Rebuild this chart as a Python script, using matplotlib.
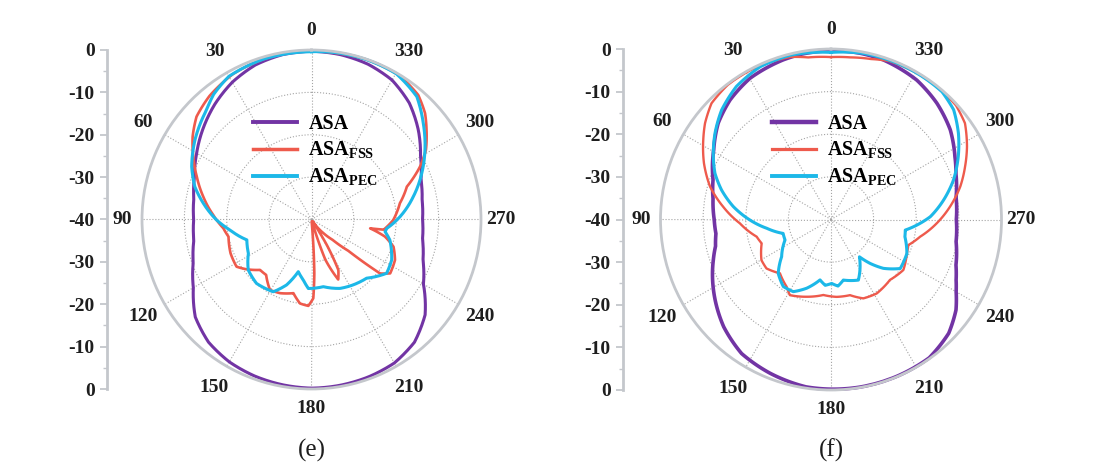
import numpy as np
import matplotlib.pyplot as plt
from matplotlib.lines import Line2D

plt.rcParams['font.family'] = ['Liberation Serif', 'DejaVu Serif']
plt.rcParams['mathtext.fontset'] = 'custom'
plt.rcParams['mathtext.rm'] = 'Liberation Serif:bold'
plt.rcParams['mathtext.bf'] = 'Liberation Serif:bold'

# ---------------------------------------------------------------------------
# Data (angle in degrees, gain in dB)
# ---------------------------------------------------------------------------

ANGLE_TICKS = list(range(0, 360, 30))
RADIAL_POS = [-40, -30, -20, -10, 0, 10, 20, 30, 40]
RADIAL_LABELS = ["0", "-10", "-20", "-30", "-40", "-30", "-20", "-10", "0"]

# panel (e)
e_asa_ang = [0, 10, 20, 30, 40, 50, 60, 70, 80, 90, 100, 110, 120, 130, 140, 150,
             160, 170, 180, 190, 200, 210, 220, 230, 240, 250, 260, 270, 280, 290,
             300, 310, 320, 330, 340, 350]
e_asa_db = [-0.3, -0.5, -1.2, -2.6, -4.5, -6.6, -8.7, -10.6, -11.8, -12.2, -11.8,
            -10.3, -7.8, -4.2, -2.2, -1.2, -0.7, -0.4, -0.2, -0.3, -0.5, -0.9,
            -2.2, -5.0, -9.5, -12.0, -13.4, -13.8, -13.5, -12.5, -10.3, -7.1,
            -4.1, -2.0, -1.0, -0.5]

e_fss_ang = [0, 16.7, 28.4, 39.6, 48.2, 55.1, 62, 69.5, 78.1, 87.4, 95.7, 101.7,
             112.7, 122.2, 127.5, 134.4, 140.7, 149.5, 156.9, 166.2, 172.2, 177.9,
             181.3, 183, 185, 196, 199, 204, 208, 211, 213, 221, 226, 229.6, 231.8,
             235.6, 244.1, 251.6, 256.9, 261.4, 262, 269.7, 280.4, 289, 296, 301.3,
             307.9, 313.1, 319.4, 328.5, 341, 351.4]
e_fss_db = [-0.3, -0.5, -1.0, -2.2, -3.6, -5.8, -8.4, -11.1, -13.9, -16.8, -19.1,
            -20.0, -19.3, -19.1, -20.7, -23.0, -23.1, -20.7, -21.1, -22.1, -20.0,
            -19.6, -21.4, -27.3, -39.5, -39.5, -30.0, -24.5, -26.5, -33.0, -39.5,
            -35.8, -33.1, -28.6, -19.4, -17.5, -18.1, -19.6, -22.2, -26.0, -22.8,
            -20.7, -18.8, -16.2, -11.5, -8.4, -5.6, -3.3, -1.3, -0.2, -0.1, -0.3]

e_pec_ang = [0, 16.8, 30, 38, 43.8, 55.7, 66.2, 74.3, 81.5, 90.3, 97.3, 107.5, 118.2,
             128.6, 139.3, 152.1, 159.2, 165.8, 172.3, 177.4, 190, 202.5, 212.6,
             223.2, 234.4, 243.2, 255.4, 260.6, 263.3, 271.8, 282.6, 292.7, 301.5,
             310.7, 319.4, 329.8, 341.1, 351.4]
e_pec_db = [-0.4, -0.5, -1.0, -2.5, -4.2, -6.7, -9.1, -11.4, -14.2, -17.6, -20.6,
            -24.0, -23.1, -20.9, -20.1, -20.7, -23.5, -27.3, -25.6, -23.7, -23.9,
            -22.4, -21.7, -21.0, -18.2, -18.8, -20.9, -22.4, -22.1, -19.1, -15.4,
            -11.8, -8.6, -5.2, -1.8, -0.2, -0.1, -0.2]

# panel (f)
f_asa_ang = [0, 10, 16.6, 29.8, 40.2, 49.5, 59.3, 71.4, 80, 90, 97, 103, 109, 124.8,
             135, 146.3, 158.4, 171.5, 180, 190, 202.9, 215.4, 226, 234.1, 240,
             244.2, 250, 260, 270, 280, 290, 296.9, 306.9, 317.7, 328.4, 341.8, 350]
f_asa_db = [-0.4, -0.6, -0.9, -1.8, -3.3, -5.2, -8.0, -10.8, -11.9, -12.6, -12.8,
            -12.2, -10.8, -6.9, -4.4, -2.2, -1.2, -0.3, -0.2, -0.1, -0.1, -0.2,
            -1.6, -3.8, -6.1, -7.4, -8.8, -10.2, -10.6, -10.2, -8.8, -7.4, -5.0,
            -3.1, -1.6, -0.6, -0.4]

f_fss_ang = [0, 8, 14, 18.6, 27.9, 37.5, 45.8, 52.6, 58.1, 66.1, 74.8, 83.2, 92.4,
             103, 109, 120.3, 127.2, 136.5, 146.6, 151.5, 162.5, 174.2, 184.2, 194.1,
             202.3, 211.7, 224.3, 235.1, 245.9, 251.7, 259.1, 267.9, 276.2, 284.3,
             291.5, 298.2, 305.7, 312.4, 320.5, 329.8, 339.9, 346, 353.3]
f_fss_db = [-1.9, -1.6, -0.7, -0.5, -0.2, -0.2, -0.9, -2.8, -4.7, -7.4, -10.6, -14.5,
            -18.6, -22.1, -22.8, -21.1, -21.0, -22.6, -21.1, -19.8, -21.0, -22.2,
            -21.8, -21.7, -20.0, -19.6, -20.2, -19.3, -20.5, -20.9, -18.7, -15.2,
            -11.9, -8.7, -6.2, -3.8, -1.3, -0.3, -0.2, -0.2, -0.4, -1.2, -1.7]

f_pec_ang = [0, 13.9, 24.9, 35.4, 45, 53.4, 61.9, 68.3, 74.9, 82.5, 90.4, 97.8, 106.2,
             114, 127, 135.6, 144.6, 152.4, 160.5, 169.7, 175, 180.6, 186, 191.5,
             204.3, 217.3, 221.7, 227, 234.7, 245.9, 256.9, 261.9, 266.3, 271.6,
             279.8, 287.9, 296.3, 304.1, 311.8, 319, 328.3, 337.8, 349]
f_pec_db = [-0.8, -0.3, -0.5, -1.7, -3.7, -6.1, -8.7, -10.7, -13.4, -16.9, -21.0,
            -24.8, -28.3, -28.2, -25.5, -22.3, -20.7, -20.9, -22.9, -25.6, -24.5,
            -25.0, -24.3, -25.5, -24.4, -29.0, -26.2, -23.2, -20.1, -20.5, -22.2,
            -22.4, -19.8, -16.7, -13.2, -9.8, -6.7, -3.9, -1.4, -0.3, -0.2, -0.2,
            -0.3]

# ---------------------------------------------------------------------------
# Style
# ---------------------------------------------------------------------------

PURPLE = "#7234a4"
RED = "#ee5a4c"
CYAN = "#1cb8e8"
RIM = "#c4c7cc"
GRID = "#a4a4a4"
INK = "#1e1e1e"

W, H = 1116, 467
fig = plt.figure(figsize=(W / 100, H / 100), dpi=100)
fig.patch.set_facecolor("white")


def _closed(ang, val):
    a = np.deg2rad(np.r_[ang, ang[0] + 360])
    return a, np.r_[val, val[0]]


def draw_panel(cx, cy, rad, spine_x, series, tag, leg_x):
    ax = fig.add_axes([(cx - rad) / W, 1 - (cy + rad) / H, 2 * rad / W, 2 * rad / H],
                      projection="polar")
    ax.set_theta_zero_location("N")
    ax.set_theta_direction(1)
    ax.set_rlim(-40, 0)
    ax.set_rticks([-30, -20, -10])
    ax.set_yticklabels([])
    ax.set_thetagrids(ANGLE_TICKS, labels=[""] * len(ANGLE_TICKS))
    ax.grid(True, ls=":", lw=0.8, color=GRID)
    ax.spines["polar"].set_color(RIM)
    ax.spines["polar"].set_linewidth(2.0)
    ax.tick_params(axis="x", direction="in", length=6, width=1.3, color=RIM, pad=0)
    ax.tick_params(axis="y", length=0)
    ax.patch.set_alpha(0)

    handles = []
    for label, ang, val, col, lw in series:
        a, v = _closed(ang, val)
        (ln,) = ax.plot(a, v, color=col, lw=lw, clip_on=False, solid_joinstyle="round")
        # draw segments as polar interpolations (smooth arcs) instead of chords
        ln.get_path()._interpolation_steps = 24
        handles.append(Line2D([], [], color=col, lw=lw + 0.6, label=label))

    for t in ANGLE_TICKS:
        r_lab = 4.6 if t % 90 == 0 else 5.8
        ax.text(np.deg2rad(t), r_lab, str(t), ha="center", va="center", fontsize=14,
                fontweight="bold", color=INK)

    ax.legend(handles=handles, loc="center left", bbox_to_anchor=(leg_x / W, 1 - 151 / H),
              bbox_transform=fig.transFigure, frameon=False, borderpad=0,
              borderaxespad=0, handlelength=2.2, handletextpad=0.55, labelspacing=0.3,
              prop={"family": "Liberation Serif", "weight": "bold", "size": 14.5})

    # vertical dB scale on the left
    axr = fig.add_axes([spine_x / W, 1 - (cy + rad) / H, 0.001, 2 * rad / H])
    axr.set_ylim(-40, 40)
    axr.set_xticks([])
    for s in ["top", "right", "bottom"]:
        axr.spines[s].set_visible(False)
    axr.spines["left"].set_color(RIM)
    axr.spines["left"].set_linewidth(2.0)
    axr.set_yticks(RADIAL_POS)
    axr.set_yticklabels(RADIAL_LABELS)
    axr.set_yticks(np.arange(-35, 40, 10), minor=True)
    axr.tick_params(axis="y", which="major", length=5, width=1.3, color=RIM, pad=4,
                    labelsize=14, labelcolor=INK)
    axr.tick_params(axis="y", which="minor", length=3, width=1.0, color=RIM)
    for lbl in axr.get_yticklabels():
        lbl.set_fontweight("bold")
    axr.patch.set_visible(False)

    fig.text(cx / W, 1 - 450 / H, tag, ha="center", va="center", fontsize=18, color=INK)


draw_panel(311.5, 219.5, 169.5, 107, [
    ("ASA", e_asa_ang, e_asa_db, PURPLE, 2.2),
    (r"ASA$_{\mathbf{FSS}}$", e_fss_ang, e_fss_db, RED, 1.9),
    (r"ASA$_{\mathbf{PEC}}$", e_pec_ang, e_pec_db, CYAN, 2.2),
], "(e)", 253)

draw_panel(831, 219.5, 170.5, 623, [
    ("ASA", f_asa_ang, f_asa_db, PURPLE, 2.6),
    (r"ASA$_{\mathbf{FSS}}$", f_fss_ang, f_fss_db, RED, 1.7),
    (r"ASA$_{\mathbf{PEC}}$", f_pec_ang, f_pec_db, CYAN, 2.2),
], "(f)", 772)

fig.savefig("out.png", dpi=100, facecolor="white")
